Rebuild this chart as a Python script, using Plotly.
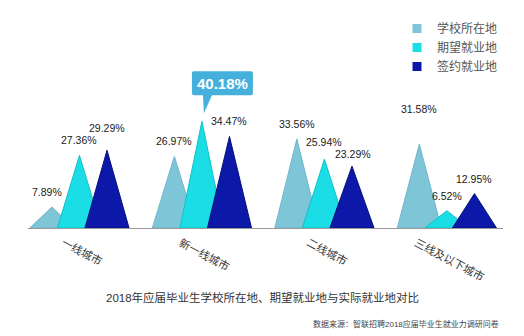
import plotly.graph_objects as go

# Data
categories = ["一线城市", "新一线城市", "二线城市", "三线及以下城市"]
series_names = ["学校所在地", "期望就业地", "签约就业地"]
school_location = [7.89, 26.97, 33.56, 31.58]
expected_location = [27.36, 40.18, 25.94, 6.52]
signed_location = [29.29, 34.47, 23.29, 12.95]
title_text = "2018年应届毕业生学校所在地、期望就业地与实际就业地对比"
source_text = "数据来源：智联招聘2018应届毕业生就业力调研问卷"

# Styling
W, H = 524, 336
L, R, T, B = 28, 21, 60, 108
fills = ["#7ec5d8", "#1adde5", "#0b18a8"]
edges = ["#70b6ca", "#12c0c8", "#06107a"]
offsets = [-0.225, 0.0, 0.225]
half_width = 0.18
font_family = "Liberation Sans, Arial, Noto Sans CJK SC, sans-serif"
callout_color = "#45b0dc"

plot_w = W - L - R
plot_h = H - T - B


def px_to_paper_x(px):
    return (px - L) / plot_w


def px_to_paper_y(py):
    return (H - B - py) / plot_h


series_values = [school_location, expected_location, signed_location]

fig = go.Figure()

# Triangular "peak" columns, one trace per series
for s, (name, vals) in enumerate(zip(series_names, series_values)):
    for i, v in enumerate(vals):
        c = i + offsets[s]
        fig.add_trace(go.Scatter(
            x=[c - half_width, c, c + half_width, c - half_width],
            y=[0, v, 0, 0],
            mode="lines",
            fill="toself",
            fillcolor=fills[s],
            line=dict(color=edges[s], width=1),
            hoverinfo="skip",
            showlegend=False,
        ))

# Legend entries
for s, name in enumerate(series_names):
    fig.add_trace(go.Scatter(
        x=[None], y=[None], mode="markers", name=name,
        marker=dict(symbol="square", size=9, color=fills[s],
                    line=dict(width=0)),
    ))

annotations = []

# Value labels (the 40.18% peak gets a callout instead)
label_nudge = {(0, 0): (-5, 0), (2, 0): (0, 7), (0, 3): (0, 20),
               (1, 2): (0, 2), (2, 2): (1, -3)}
for s, vals in enumerate(series_values):
    for i, v in enumerate(vals):
        if s == 1 and i == 1:
            continue
        dx, dy = label_nudge.get((s, i), (0, 0))
        annotations.append(dict(
            x=i + offsets[s], y=v, xref="x", yref="y",
            text=f"{v:.2f}%", showarrow=False,
            xanchor="center", yanchor="middle",
            xshift=dx, yshift=15 + dy,
            font=dict(family=font_family, size=10.5, color="#1a1a1a"),
        ))

# Callout for the highest expected value
peak_val = expected_location[1]
annotations.append(dict(
    x=1 + offsets[1], y=peak_val, xref="x", yref="y",
    text=f"<b>{peak_val:.2f}%</b>", showarrow=False,
    xanchor="center", yanchor="middle",
    xshift=20.5, yshift=38,
    font=dict(family=font_family, size=15, color="white"),
))

# Rotated category labels
for i, cat in enumerate(categories):
    annotations.append(dict(
        x=i, y=0, xref="x", yref="y",
        text=cat, showarrow=False, textangle=28,
        xanchor="center", yanchor="top",
        xshift=3, yshift=-5,
        font=dict(family=font_family, size=11, color="#333333"),
    ))

# Chart title and source note
annotations.append(dict(
    x=px_to_paper_x(262), y=px_to_paper_y(297), xref="paper", yref="paper",
    text=title_text, showarrow=False, xanchor="center", yanchor="middle",
    font=dict(family=font_family, size=11.5, color="#333333"),
))
annotations.append(dict(
    x=px_to_paper_x(501), y=px_to_paper_y(324), xref="paper", yref="paper",
    text=source_text, showarrow=False, xanchor="right", yanchor="middle",
    font=dict(family=font_family, size=8, color="#444444"),
))

shapes = [dict(
    type="path", xref="x", yref="y",
    xsizemode="pixel", ysizemode="pixel",
    xanchor=1 + offsets[1], yanchor=peak_val,
    path=("M -10,28 Q -10,26 -8,26 L 1,26 L 2,8 L 10,26 L 49,26 "
          "Q 51,26 51,28 L 51,48 Q 51,50 49,50 L -8,50 Q -10,50 -10,48 Z"),
    fillcolor=callout_color, line=dict(width=0),
)]

fig.update_layout(
    width=W, height=H,
    margin=dict(l=L, r=R, t=T, b=B),
    paper_bgcolor="white", plot_bgcolor="white",
    xaxis=dict(range=[-0.42, 3.458], showticklabels=False, ticks="",
               showgrid=False, zeroline=False, showline=True,
               linecolor="#9a9a9a", linewidth=1, fixedrange=True),
    yaxis=dict(range=[0, plot_h / 2.655], visible=False, showgrid=False,
               zeroline=False, fixedrange=True),
    legend=dict(x=px_to_paper_x(397), y=px_to_paper_y(14),
                xanchor="left", yanchor="top",
                font=dict(family=font_family, size=12, color="#555555"),
                bgcolor="rgba(0,0,0,0)", itemclick=False),
    annotations=annotations,
    shapes=shapes,
    showlegend=True,
)

fig.write_html("out.html")
